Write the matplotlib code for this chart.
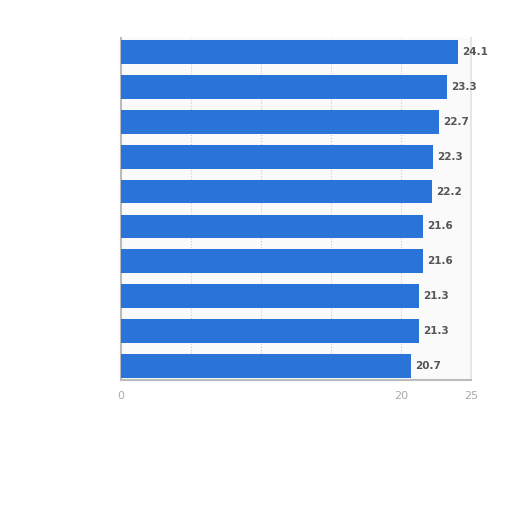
import matplotlib
matplotlib.use("Agg")
import matplotlib.pyplot as plt

values = [24.1, 23.3, 22.7, 22.3, 22.2, 21.6, 21.6, 21.3, 21.3, 20.7]
labels = ["24.1", "23.3", "22.7", "22.3", "22.2", "21.6", "21.6", "21.3", "21.3", "20.7"]
xticks = [0, 20, 25]

fig = plt.figure(figsize=(5.12, 5.12), dpi=100)
ax = fig.add_axes([121/512, 1-380/512, 350/512, 342/512])
ax.set_facecolor("#fafafa")
pos = list(range(len(values)))
ax.barh(pos, values, height=0.68, color="#2a74d9", zorder=3)
for p, v, l in zip(pos, values, labels):
    ax.text(v + 0.3, p, l, va="center", ha="left", fontsize=7.5,
            fontweight="bold", color="#555555", zorder=4)
ax.set_xlim(0, 25)
ax.set_ylim(9.4, -0.4)
ax.set_yticks([])
ax.set_xticks(xticks)
ax.set_xticklabels([str(t) for t in xticks], color="#aaaaaa", fontsize=8)
ax.set_xticks([5, 10, 15, 20], minor=True)
ax.grid(axis="x", which="both", linestyle=":", color="#cccccc", linewidth=0.8, zorder=0)
ax.tick_params(axis="x", which="both", length=0, pad=8)
for s in ["top"]:
    ax.spines[s].set_visible(False)
ax.spines["right"].set_color("#e6e6e6")
ax.spines["right"].set_linewidth(1.5)
for s in ["left", "bottom"]:
    ax.spines[s].set_color("#bbbbbb")
    ax.spines[s].set_linewidth(1.5)
fig.savefig("out.png", dpi=100, facecolor="white")
